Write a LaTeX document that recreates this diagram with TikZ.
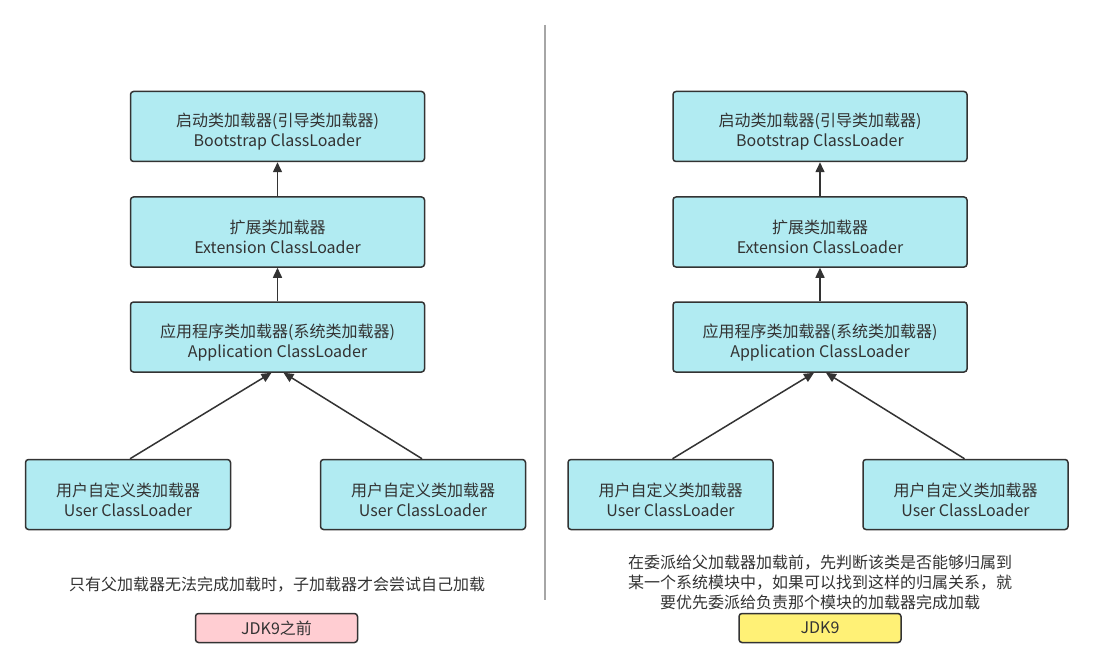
\documentclass[tikz,border=0pt]{standalone}
\usepackage{fontspec}
\setmainfont{Noto Sans CJK SC}
\usetikzlibrary{arrows.meta}
\definecolor{loaderfill}{RGB}{177,235,242}
\definecolor{edgegray}{RGB}{51,51,51}
\definecolor{pinkfill}{RGB}{255,205,210}
\definecolor{yellowfill}{RGB}{255,241,118}
\definecolor{splitgray}{RGB}{166,166,166}
\tikzset{
    loader/.style={draw=edgegray, line width=1.5pt, rounded corners=3pt,
        fill=loaderfill, text=edgegray, align=center, inner sep=0pt,
        minimum height=70pt, font=\fontsize{16}{20}\selectfont,
        text height=44pt},
    bigbox/.style={loader, minimum width=294pt},
    userbox/.style={loader, minimum width=205pt},
    tagbox/.style={draw=edgegray, line width=1.5pt, rounded corners=3pt,
        text=edgegray, inner sep=0pt, minimum width=162pt, minimum height=29pt,
        font=\fontsize{16}{20}\selectfont},
    note/.style={text=edgegray, align=center, font=\fontsize{16}{20}\selectfont},
    parent/.style={draw=edgegray, line width=1.5pt, -{Triangle[length=10pt,width=9pt]}}
}
\begin{document}
\begin{tikzpicture}[x=1pt, y=-1pt]
    \useasboundingbox[fill=white] (0,0) rectangle (1094,668);
    % two columns: before JDK9 and JDK9
    \foreach \ox/\col in {0/L, 542.5/R}{
        \node[bigbox]  (boot\col) at (277.5+\ox,126.5) {启动类加载器(引导类加载器)\\Bootstrap ClassLoader};
        \node[bigbox]  (ext\col)  at (277.5+\ox,232)   {扩展类加载器\\Extension ClassLoader};
        \node[bigbox]  (app\col)  at (277.5+\ox,337)   {应用程序类加载器(系统类加载器)\\Application ClassLoader};
        \node[userbox] (ua\col)   at (128+\ox,494.5)   {用户自定义类加载器\\User ClassLoader};
        \node[userbox] (ub\col)   at (423+\ox,494.5)   {用户自定义类加载器\\User ClassLoader};
        \draw[parent] (ext\col) -- (boot\col);
        \draw[parent] (app\col) -- (ext\col);
        \draw[parent] ([xshift=2pt]ua\col.north) -- ([xshift=-6pt]app\col.south);
        \draw[parent] ([xshift=-1pt]ub\col.north) -- ([xshift=6pt]app\col.south);
    }
    % divider
    \draw[splitgray, line width=1.5pt] (545,25) -- (545,600);
    % captions
    \node[note] (capL) at (277,585) {只有父加载器无法完成加载时，子加载器才会尝试自己加载};
    \node[note] (capR) at (820,582) {在委派给父加载器加载前，先判断该类是否能够归属到\\某一个系统模块中，如果可以找到这样的归属关系，就\\要优先委派给负责那个模块的加载器完成加载};
    \node[tagbox, fill=pinkfill]   (tagL) at (276.5,628) {JDK9之前};
    \node[tagbox, fill=yellowfill] (tagR) at (820,628)   {JDK9};
\end{tikzpicture}
\end{document}
